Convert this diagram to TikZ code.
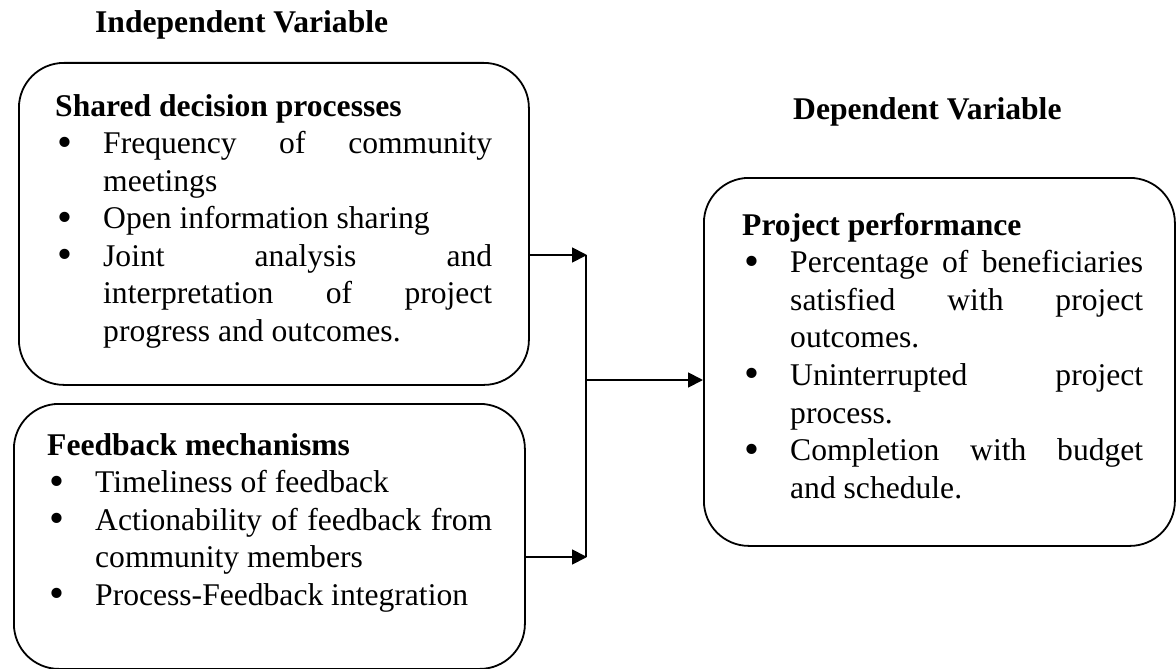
\documentclass[tikz,border=0pt]{standalone}
\usepackage{fontspec}
\setmainfont{Liberation Serif}
\usetikzlibrary{arrows.meta}
\tikzset{
  box/.style={draw, line width=1.8pt, rounded corners=45pt, inner sep=0pt, anchor=north west},
  txt/.style={inner sep=0pt, anchor=base west, font=\fontsize{31.6}{37.6}\selectfont},
  arr/.style={line width=1.8pt, -{Triangle[length=15pt,width=15pt]}},
  link/.style={line width=1.8pt},
}
\newcommand{\bigbullet}{\smash{\raisebox{-0.08em}{\scalebox{1.35}{\textbullet}}}}
\newcommand{\bitem}[1]{\par\hangindent=48pt\hangafter=1\noindent\makebox[48pt][l]{\hspace{2pt}\bigbullet}#1}
\newcommand{\boxsetup}{\tolerance=10000\hyphenpenalty=10000\exhyphenpenalty=10000\emergencystretch=0pt\parindent=0pt\spaceskip=0.25em plus 2em minus 0em\relax}
\begin{document}
\begin{tikzpicture}[x=1pt,y=1pt]
\useasboundingbox (0,0) rectangle (1176,-669);
% titles
\node[txt] (tind) at (95,-33) {\textbf{Independent Variable}};
\node[txt] (tdep) at (793,-119) {\textbf{Dependent Variable}};
% boxes
\node[box, minimum width=510pt, minimum height=322pt] (b1) at (18,-62) {};
\node[box, minimum width=511pt, minimum height=265pt] (b2) at (13,-403) {};
\node[box, minimum width=471pt, minimum height=368pt] (b3) at (703,-177) {};
% box texts
\node[txt] (t1) at (55,-116) {\parbox[t]{437pt}{\boxsetup\textbf{Shared decision processes}%
  \bitem{Frequency of community meetings}%
  \bitem{Open information sharing}%
  \bitem{Joint analysis and interpretation of project progress and outcomes.}}};
\node[txt] (t2) at (47,-455) {\parbox[t]{445pt}{\boxsetup\textbf{Feedback mechanisms}%
  \bitem{Timeliness of feedback}%
  \bitem{Actionability of feedback from community members}%
  \bitem{Process-Feedback integration}}};
\node[txt] (t3) at (742,-235) {\parbox[t]{401pt}{\boxsetup\textbf{Project performance}%
  \bitem{Percentage of beneficiaries satisfied with project outcomes.}%
  \bitem{Uninterrupted project process.}%
  \bitem{Completion with budget and schedule.}}};
% connectors
\coordinate (jt) at (587,-255);
\coordinate (jb) at (587,-557);
\coordinate (vt) at (586,-255);
\coordinate (vb) at (586,-557);
\coordinate (jm) at (586,-380);
\draw[arr] (b1.east |- jt) -- (jt);
\draw[arr] (b2.east |- jb) -- (jb);
\draw[link] (vt) -- (vb);
\draw[arr] (jm) -- (b3.west |- jm);
\end{tikzpicture}
\end{document}
